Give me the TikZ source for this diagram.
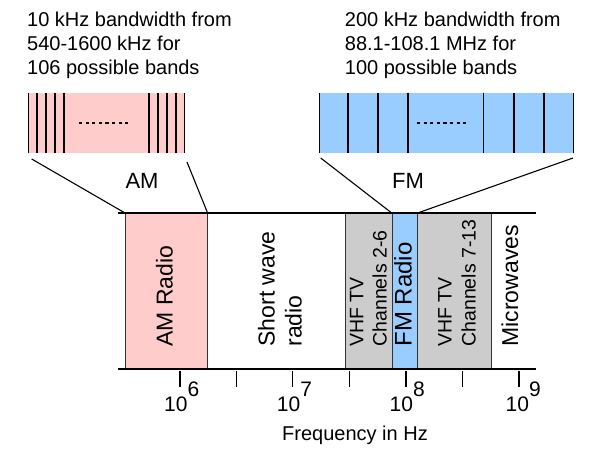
\documentclass[tikz,border=0pt]{standalone}
\usepackage{fontspec}
\setmainfont{Liberation Sans}
\definecolor{ampink}{HTML}{FFCCCC}
\definecolor{fmblue}{HTML}{99CCFF}
\definecolor{tvgrey}{HTML}{CCCCCC}
\begin{document}
\begin{tikzpicture}[x=1pt,y=-1pt,
  zoombox/.style={rectangle,inner sep=0pt,minimum height=60pt,anchor=north west,draw=none},
  bandline/.style={line width=1.4pt,black},
  dots/.style={line width=1.1pt,dash pattern=on 3.2pt off 3.4pt},
  bandbox/.style={rectangle,inner sep=0pt,minimum height=156pt,anchor=north west,draw=black!80,line width=0.9pt},
  axisline/.style={line width=2.4pt,line cap=butt},
  conn/.style={line width=1.1pt},
  tick/.style={line width=1.1pt},
  vlabel/.style={rotate=90,anchor=base west,inner sep=0pt},
  toptext/.style={anchor=north west,align=left,inner sep=0pt,font=\fontsize{20}{24}\selectfont},
  biglabel/.style={inner sep=0pt,font=\fontsize{22}{26}\selectfont},
  ticklabel/.style={anchor=base west,inner sep=0pt,font=\fontsize{21}{25}\selectfont}]
\useasboundingbox (0,0) rectangle (598,454);

% top explanatory texts
\node[toptext] (amtext) at (27,12.3) {10 kHz bandwidth from\\540-1600 kHz for\\106 possible bands};
\node[toptext] (fmtext) at (344.7,12.3) {200 kHz bandwidth from\\88.1-108.1 MHz for\\100 possible bands};

% zoomed boxes
\node[zoombox,fill=ampink,minimum width=157pt] (amzoom) at (28,93) {};
\node[zoombox,fill=fmblue,minimum width=255.5pt] (fmzoom) at (318.7,93) {};
\foreach \x in {28.6,37,46,55,64,149,158,167,176,184.3}
  \draw[bandline] (\x,93) -- (\x,153);
\foreach \x in {319.4,348,378,408,483.7,514,544,573.3}
  \draw[bandline] (\x,93) -- (\x,153);
\draw[dots] (79,123) -- (131,123);
\draw[dots] (417,123) -- (469,123);

% AM / FM labels
\node[biglabel] (amlab) at (142,181) {AM};
\node[biglabel] (fmlab) at (408,181) {FM};

% spectrum bands
\node[bandbox,fill=ampink,minimum width=81.7pt] (amradio) at (125,213) {};
\node[bandbox,draw=none,minimum width=138.3pt] (shortwave) at (206.7,213) {};
\node[bandbox,fill=tvgrey,minimum width=46.7pt] (vhflow) at (345,213) {};
\node[bandbox,fill=fmblue,minimum width=25pt] (fmradio) at (391.7,213) {};
\node[bandbox,fill=tvgrey,minimum width=74.3pt] (vhfhigh) at (416.7,213) {};
\node[bandbox,draw=none,minimum width=45pt] (micro) at (491,213) {};
\draw[black!80,line width=0.9pt] (amradio.north east) -- (amradio.south east);

% axis lines
\coordinate (tl) at (118,213);
\coordinate (tr) at (536,213);
\coordinate (bl) at (118,369);
\coordinate (br) at (536,369);
\draw[axisline] (tl) -- (tr);
\draw[axisline] (bl) -- (br);

% connectors
\coordinate (amc1) at (31.7,159);
\coordinate (amc2) at (187,162);
\coordinate (fmc1) at (320.7,158);
\coordinate (fmc2) at (573,158);
\draw[conn] (amc1) -- (amradio.north west);
\draw[conn] (amc2) -- (amradio.north east);
\draw[conn] (fmc1) -- (fmradio.north west);
\draw[conn] (fmc2) -- (fmradio.north east);

% band labels
\node[vlabel,font=\fontsize{23}{27}\selectfont] (amrl) at (172.7,346.7) {AM Radio};
\node[vlabel,font=\fontsize{23}{27}\selectfont] (swl1) at (274.5,346.7) {Short wave};
\node[vlabel,font=\fontsize{23}{27}\selectfont] (swl2) at (301.5,346.7) {radio};
\node[vlabel,font=\fontsize{19.5}{23}\selectfont] (vl1) at (363.3,346.7) {VHF TV};
\node[vlabel,font=\fontsize{19.5}{23}\selectfont] (vl2) at (386.7,346.7) {Channels 2-6};
\node[vlabel,font=\fontsize{24}{28}\selectfont] (fmrl) at (411.7,346.7) {FM Radio};
\node[vlabel,font=\fontsize{19.5}{23}\selectfont] (vh1) at (451.7,346.7) {VHF TV};
\node[vlabel,font=\fontsize{19.5}{23}\selectfont] (vh2) at (475.7,346.7) {Channels 7-13};
\node[vlabel,font=\fontsize{23}{27}\selectfont] (mwl) at (518,346.7) {Microwaves};

% ticks
\foreach \x/\n in {180/t6,236.7/t65,292.7/t7,349.3/t75,406/t8,462.3/t85,519/t9}{
  \coordinate (\n a) at (\x,371);
  \coordinate (\n b) at (\x,387);
  \draw[tick] (\n a) -- (\n b);
}
\node[ticklabel] (l6) at (164,411.7) {10\raisebox{15pt}{6}};
\node[ticklabel] (l7) at (276.7,411.7) {10\raisebox{15pt}{7}};
\node[ticklabel] (l8) at (389.5,411.7) {10\raisebox{15pt}{8}};
\node[ticklabel] (l9) at (505.5,411.7) {10\raisebox{15pt}{9}};

\node[anchor=base,inner sep=0pt,font=\fontsize{20}{24}\selectfont] (freq) at (355,441) {Frequency in Hz};
\end{tikzpicture}
\end{document}
